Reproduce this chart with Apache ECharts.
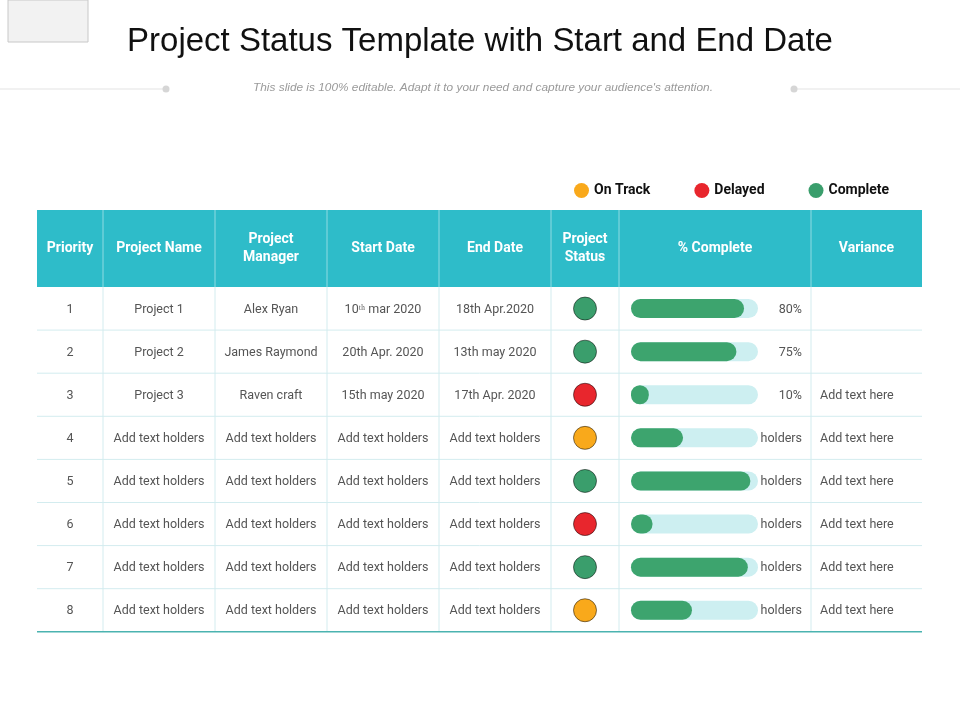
<!DOCTYPE html>
<html>
<head>
<meta charset="utf-8">
<script src="https://cdn.jsdelivr.net/npm/echarts@6/dist/echarts.min.js"></script>
<style>html,body{margin:0;padding:0;background:#fff}#main{width:960px;height:720px}</style>
</head>
<body>
<div id="main"></div>
<script>
// 表格数据
var headers = ['Priority', 'Project Name', 'Project\nManager', 'Start Date', 'End Date', 'Project\nStatus', '% Complete', 'Variance'];
var priority = ['1', '2', '3', '4', '5', '6', '7', '8'];
var projectNames = ['Project 1', 'Project 2', 'Project 3', 'Add text holders', 'Add text holders', 'Add text holders', 'Add text holders', 'Add text holders'];
var managers = ['Alex Ryan', 'James Raymond', 'Raven craft', 'Add text holders', 'Add text holders', 'Add text holders', 'Add text holders', 'Add text holders'];
var startDates = ['10ᵗʰ mar 2020', '20th Apr. 2020', '15th may 2020', 'Add text holders', 'Add text holders', 'Add text holders', 'Add text holders', 'Add text holders'];
var endDates = ['18th Apr.2020', '13th may 2020', '17th Apr. 2020', 'Add text holders', 'Add text holders', 'Add text holders', 'Add text holders', 'Add text holders'];
var projectStatus = ['Complete', 'Complete', 'Delayed', 'On Track', 'Complete', 'Delayed', 'Complete', 'On Track'];
var progress = [89, 83, 14, 41, 94, 17, 92, 48];
var progressLabels = ['80%', '75%', '10%', 'holders', 'holders', 'holders', 'holders', 'holders'];
var variance = ['', '', 'Add text here', 'Add text here', 'Add text here', 'Add text here', 'Add text here', 'Add text here'];
var statusNames = ['On Track', 'Delayed', 'Complete'];
var statusColors = ['#f9a91b', '#e8262d', '#3a9e6c'];

;(function() {
var myChart = echarts.init(document.getElementById('main'));

var colX = [37, 103, 215, 327, 439, 551, 619, 811, 922];
var headTop = 210, bodyTop = 287, rowH = 43.1, bodyBottom = bodyTop + rowH * 8;
var bodyFont = 'Roboto';
var g = [];

// 标题
g.push({type: 'rect', shape: {x: 8, y: 0, width: 80, height: 42}, style: {fill: '#f2f2f2', stroke: '#c8c8c8'}});
g.push({type: 'text', x: 480, y: 42, scaleX: 0.97, style: {text: 'Project Status Template with Start and End Date', font: '34px "Liberation Sans"', fill: '#111', align: 'center', verticalAlign: 'middle'}});
g.push({type: 'line', shape: {x1: 0, y1: 89, x2: 166, y2: 89}, style: {stroke: '#e3e3e3', lineWidth: 1}});
g.push({type: 'circle', shape: {cx: 166, cy: 89, r: 3.5}, style: {fill: '#d6d6d6'}});
g.push({type: 'line', shape: {x1: 794, y1: 89, x2: 960, y2: 89}, style: {stroke: '#e3e3e3', lineWidth: 1}});
g.push({type: 'circle', shape: {cx: 794, cy: 89, r: 3.5}, style: {fill: '#d6d6d6'}});
g.push({type: 'text', x: 483, y: 88, scaleX: 1.03, style: {text: "This slide is 100% editable. Adapt it to your need and capture your audience's attention.", font: 'italic 11.5px "Liberation Sans"', fill: '#9a9a9a', align: 'center', verticalAlign: 'middle'}});

// 表头
g.push({type: 'rect', shape: {x: colX[0], y: headTop, width: colX[8] - colX[0], height: bodyTop - headTop}, style: {fill: '#2ebcc9'}});
headers.forEach(function(h, i) {
  g.push({type: 'text', x: (colX[i] + colX[i + 1]) / 2, y: (headTop + bodyTop) / 2, style: {text: h, font: 'bold 14px Roboto', fill: '#fff', align: 'center', verticalAlign: 'middle', lineHeight: 18}});
});
// 网格线
for (var i = 1; i < 8; i++) {
  g.push({type: 'line', shape: {x1: colX[i], y1: headTop, x2: colX[i], y2: bodyTop}, style: {stroke: '#8fdbe2', lineWidth: 1}});
  g.push({type: 'line', shape: {x1: colX[i], y1: bodyTop, x2: colX[i], y2: bodyBottom}, style: {stroke: '#d3ecef', lineWidth: 1}});
}
for (var r = 1; r < 8; r++) {
  g.push({type: 'line', shape: {x1: colX[0], y1: bodyTop + rowH * r, x2: colX[8], y2: bodyTop + rowH * r}, style: {stroke: '#d3ecef', lineWidth: 1}});
}
g.push({type: 'line', shape: {x1: colX[0], y1: bodyBottom, x2: colX[8], y2: bodyBottom}, style: {stroke: '#4bb3b0', lineWidth: 1.5}});

// 单元格文字
var cols = [priority, projectNames, managers, startDates, endDates];
cols.forEach(function(arr, c) {
  arr.forEach(function(t, r) {
    g.push({type: 'text', x: (colX[c] + colX[c + 1]) / 2, y: bodyTop + rowH * (r + 0.5) + 1, style: {text: t, font: '12.5px ' + bodyFont, fill: '#555', align: 'center', verticalAlign: 'middle'}});
  });
});
progressLabels.forEach(function(t, r) {
  g.push({type: 'text', x: 802, y: bodyTop + rowH * (r + 0.5) + 1, style: {text: t, font: '12.5px ' + bodyFont, fill: '#555', align: 'right', verticalAlign: 'middle'}});
});
variance.forEach(function(t, r) {
  g.push({type: 'text', x: 820, y: bodyTop + rowH * (r + 0.5) + 1, style: {text: t, font: '12.5px ' + bodyFont, fill: '#555', align: 'left', verticalAlign: 'middle'}});
});

var rows = priority.map(function(p, i) { return i; });

var statusSeries = statusNames.map(function(name, k) {
  return {
    name: name,
    type: 'scatter',
    xAxisIndex: 1, yAxisIndex: 1,
    symbolSize: 23,
    itemStyle: {color: statusColors[k], opacity: 1, borderColor: 'rgba(0,0,0,0.5)', borderWidth: 1},
    data: projectStatus.map(function(s, i) { return s === name ? [0.5, i] : null; }).filter(Boolean)
  };
});

var option = {
  animation: false,
  graphic: g,
  legend: {
    top: 178, left: 569,
    itemGap: 44, itemWidth: 15, itemHeight: 15,
    icon: 'circle',
    data: statusNames,
    itemStyle: {borderWidth: 0},
    textStyle: {fontFamily: 'Roboto', fontWeight: 'bold', fontSize: 14, color: '#111'}
  },
  grid: [
    {left: 631, width: 127, top: bodyTop, height: rowH * 8},
    {left: colX[5], width: colX[6] - colX[5], top: bodyTop, height: rowH * 8}
  ],
  xAxis: [
    {type: 'value', min: 0, max: 100, show: false, gridIndex: 0},
    {type: 'value', min: 0, max: 1, show: false, gridIndex: 1}
  ],
  yAxis: [
    {type: 'category', data: rows, inverse: true, show: false, gridIndex: 0},
    {type: 'category', data: rows, inverse: true, show: false, gridIndex: 1}
  ],
  series: [{
    name: 'progress',
    type: 'bar',
    barWidth: 19,
    data: progress,
    showBackground: true,
    backgroundStyle: {color: '#cdeff1', borderRadius: 10},
    itemStyle: {color: '#3da46e', borderRadius: 10}
  }].concat(statusSeries)
};

myChart.setOption(option);
})();
</script>
</body>
</html>
